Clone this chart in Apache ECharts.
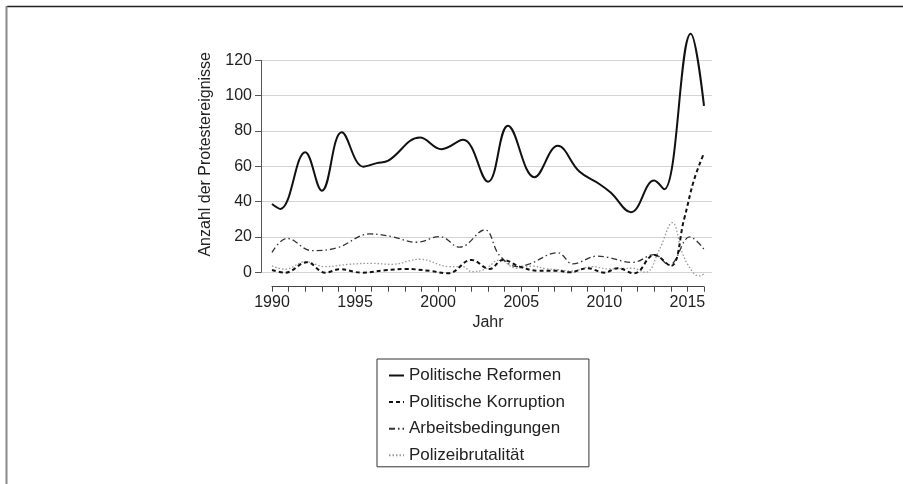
<!DOCTYPE html>
<html>
<head>
<meta charset="utf-8">
<script src="https://cdn.jsdelivr.net/npm/echarts@6/dist/echarts.min.js"></script>
<style>
  html, body { margin: 0; padding: 0; background: #fff; }
  #main { width: 903px; height: 484px; }
</style>
</head>
<body>
<div id="main"></div>
<script>
// values: [year, count]
var reformen = [[1990, 38.7], [1990.5, 35.9], [1992, 68], [1993, 46.2], [1994.2, 79.3], [1995.5, 59.8],
  [1996.3, 61.8], [1997, 63.2], [1998.9, 76.3], [2000.2, 69.7], [2001.5, 75], [2003, 51.3],
  [2004.2, 82.9], [2005.8, 53.8], [2007.2, 71.6], [2008.5, 57], [2009.7, 50], [2010.4, 45],
  [2011.6, 34], [2013, 51.9], [2013.6, 47], [2015.2, 135], [2016, 94.2]];
var korruption = [[1990, 1.3], [1990.8, -0.2], [1992.1, 5.7], [1993.2, -0.2], [1994.1, 1.7], [1995.4, -0.2],
  [1996.8, 1.1], [1998, 1.9], [1999.5, 0.8], [2000.6, -0.6], [2002, 7], [2003.1, 1.9], [2003.9, 7],
  [2004.9, 3.2], [2006, 0.9], [2007.2, 0.9], [2007.9, 0], [2009, 2.3], [2010, -0.2], [2010.8, 2.3],
  [2011.8, -0.6], [2013, 9.8], [2014, 3.6], [2014.8, 30], [2015.4, 52.3], [2016, 67.5]];
var arbeit = [[1990, 11.3], [1990.9, 19.2], [1992.4, 12.3], [1993.9, 13.8], [1995.9, 21.7], [1997.2, 20.2],
  [1998.7, 17], [2000.1, 20.2], [2001.3, 14.2], [2002.8, 24], [2003.7, 9.5], [2004.8, 3.2],
  [2005.5, 4.7], [2007.2, 11.1], [2008.1, 4.8], [2009.6, 9.2], [2010.2, 8.5], [2011.7, 5.6],
  [2013, 10], [2013.9, 4.2], [2015.15, 20], [2016, 13]];
var polizei = [[1990, 3.6], [1990.8, 1.7], [1992, 6], [1993.2, 3.2], [1994.6, 4.5], [1996, 5.1],
  [1997.2, 4.5], [1998.9, 7.4], [2000.7, 3.2], [2001.5, 3.2], [2002, 0.4], [2002.8, 1.7],
  [2003.7, 7], [2004.7, 2.3], [2005.7, 3.5], [2006.5, 2], [2007.2, 1.5], [2008, 0.7],
  [2009.3, 3.2], [2010.3, 1.9], [2011.7, 2.3], [2012.5, 0], [2013.3, 12.6], [2014.1, 28.1],
  [2014.7, 10.8], [2015.3, 0.4], [2015.7, -2.1], [2016, -0.9]];
var seriesNames = ['Politische Reformen', 'Politische Korruption', 'Arbeitsbedingungen', 'Polizeibrutalität'];
var yTicks = [0, 20, 40, 60, 80, 100, 120];
var firstYear = 1990, lastYear = 2016;

// plot geometry
var axisLeft = 272, axisRight = 704;   // pixel span of 1990..2016
var gridLeft = 261, gridRight = 712;   // gridlines reach a bit further
var pxYear = (axisRight - axisLeft) / (lastYear - firstYear);
var font = "'Liberation Sans', Arial, sans-serif";

function curve(name, data, color, width, dash) {
  return {
    name: name, type: 'line', data: data, smooth: 0.4,
    symbol: 'none', clip: false,
    itemStyle: { color: color },
    lineStyle: { color: color, width: width, type: dash }
  };
}

var myChart = echarts.init(document.getElementById('main'));
var option = {
  backgroundColor: '#fff',
  animation: false,
  textStyle: { fontFamily: font },
  grid: [
    { left: gridLeft, right: 903 - gridRight, top: 60.3, bottom: 484 - 272.3 },
    { left: axisLeft, right: 903 - axisRight, top: 280, bottom: 484 - 286.7 }
  ],
  xAxis: [
    {
      gridIndex: 0, type: 'value', show: false,
      min: firstYear - (axisLeft - gridLeft) / pxYear,
      max: lastYear + (gridRight - axisRight) / pxYear
    },
    {
      gridIndex: 1, type: 'value', min: firstYear, max: lastYear, interval: 1,
      name: 'Jahr', nameLocation: 'middle', nameGap: 28,
      nameTextStyle: { fontSize: 16, color: '#222' },
      axisLine: { lineStyle: { color: '#444', width: 1 } },
      axisTick: { length: 5, lineStyle: { color: '#444' } },
      splitLine: { show: false },
      axisLabel: {
        fontSize: 16, color: '#222', margin: 8,
        formatter: function (v) { return v % 5 === 0 ? String(v) : ''; }
      }
    }
  ],
  yAxis: [
    {
      gridIndex: 0, type: 'value', min: yTicks[0], max: yTicks[yTicks.length - 1], interval: 20,
      name: 'Anzahl der Protestereignisse', nameLocation: 'middle', nameGap: 47,
      nameTextStyle: { fontSize: 16, color: '#222', padding: [0, 0, 0, 24] },
      axisLine: { show: true, lineStyle: { color: '#555', width: 1 } },
      axisTick: { show: true, length: 6, lineStyle: { color: '#555' } },
      axisLabel: { fontSize: 16, color: '#222', margin: 9 },
      splitLine: { lineStyle: { color: '#d4d4d4', width: 1 } }
    },
    { gridIndex: 1, type: 'value', show: false }
  ],
  legend: {
    data: seriesNames,
    orient: 'vertical',
    left: 377, top: 359,
    padding: [8, 24, 3, 11],
    itemGap: 9.6,
    itemWidth: 15, itemHeight: 10,
    itemStyle: { opacity: 0 },
    borderColor: '#333', borderWidth: 1,
    textStyle: { fontSize: 17, color: '#222' }
  },
  series: [
    curve(seriesNames[3], polizei, '#9a9a9a', 1.3, [1.5, 2]),
    curve(seriesNames[2], arbeit, '#333', 1.3, [6, 3, 1.5, 3]),
    curve(seriesNames[1], korruption, '#111', 2, [4, 3]),
    curve(seriesNames[0], reformen, '#111', 2, 'solid')
  ],
  graphic: [
    { type: 'line', shape: { x1: 7, y1: 6.5, x2: 903, y2: 6.5 }, style: { stroke: '#222', lineWidth: 1.3 } },
    { type: 'line', shape: { x1: 6.5, y1: 6, x2: 6.5, y2: 484 }, style: { stroke: '#888', lineWidth: 2 } }
  ]
};
myChart.setOption(option);

window.addEventListener('resize', function () {
  myChart.resize();
});
</script>
</body>
</html>
